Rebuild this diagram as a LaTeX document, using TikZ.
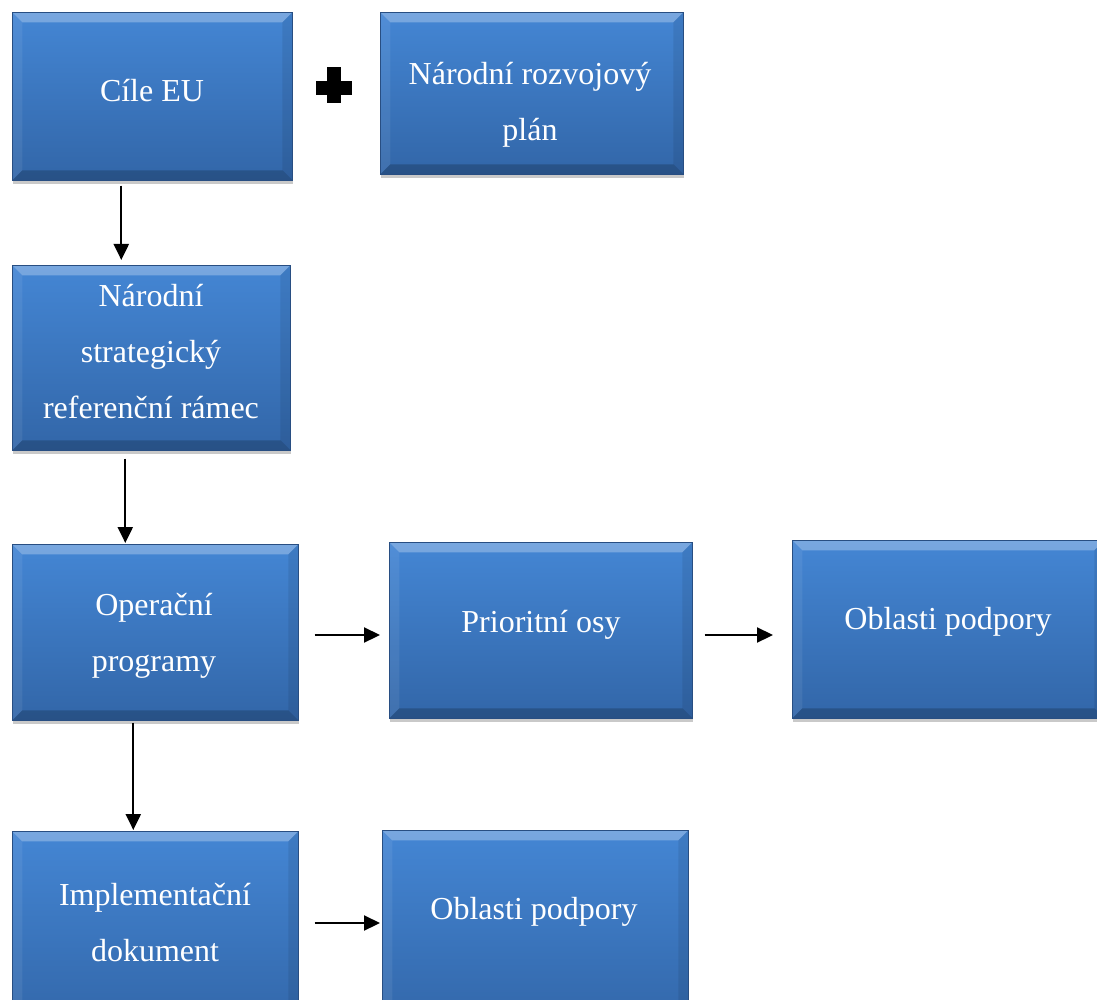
\documentclass[tikz,border=0pt]{standalone}
\usepackage{fontspec}
\setmainfont{Liberation Serif}
\usetikzlibrary{arrows.meta,shadows}
\definecolor{boxtop}{RGB}{68,134,212}
\definecolor{boxbot}{RGB}{50,102,168}
\definecolor{boxedge}{RGB}{40,78,130}
\tikzset{
  blbox/.style={rectangle, anchor=north west, top color=boxtop, bottom color=boxbot, draw=boxedge, line width=0.6pt,
    inner sep=0pt,
    drop shadow={shadow xshift=1pt, shadow yshift=-4pt, opacity=.3, fill=black!70},
    path picture={
      \fill[white,opacity=.28] (path picture bounding box.north west) -- (path picture bounding box.north east)
        -- ([shift={(-10pt,-10pt)}]path picture bounding box.north east) -- ([shift={(10pt,-10pt)}]path picture bounding box.north west) -- cycle;
      \fill[white,opacity=.07] (path picture bounding box.north west) -- ([shift={(10pt,-10pt)}]path picture bounding box.north west)
        -- ([shift={(10pt,10pt)}]path picture bounding box.south west) -- (path picture bounding box.south west) -- cycle;
      \fill[black,opacity=.08] (path picture bounding box.north east) -- ([shift={(-10pt,-10pt)}]path picture bounding box.north east)
        -- ([shift={(-10pt,10pt)}]path picture bounding box.south east) -- (path picture bounding box.south east) -- cycle;
      \fill[black,opacity=.2] (path picture bounding box.south west) -- ([shift={(10pt,10pt)}]path picture bounding box.south west)
        -- ([shift={(-10pt,10pt)}]path picture bounding box.south east) -- (path picture bounding box.south east) -- cycle;
    }},
  boxtext/.style={text=white, align=center, inner sep=0pt, anchor=center,
    font=\fontsize{32}{56}\selectfont},
  arr/.style={line width=2.2pt, -{Triangle[length=16pt,width=15pt]}}
}
\begin{document}
\begin{tikzpicture}[x=1pt,y=-1pt]
\useasboundingbox (0,0) rectangle (1097,1000);
\clip (0,0) rectangle (1097,1000);
% boxes
\node[blbox, minimum width=280pt, minimum height=168pt] (b1) at (12,12) {};
\node[blbox, minimum width=303pt, minimum height=162pt] (b2) at (380,12) {};
\node[blbox, minimum width=278pt, minimum height=185pt] (b3) at (12,265) {};
\node[blbox, minimum width=286pt, minimum height=176pt] (b4) at (12,544) {};
\node[blbox, minimum width=303pt, minimum height=176pt] (b5) at (389,542) {};
\node[blbox, minimum width=312pt, minimum height=178pt] (b6) at (792,540) {};
\node[blbox, minimum width=286pt, minimum height=200pt] (b7) at (12,831) {};
\node[blbox, minimum width=306pt, minimum height=200pt] (b8) at (382,830) {};
% texts
\node[boxtext] (t1) at (152,91) {Cíle EU};
\node[boxtext] (t2) at (530,105) {Národní rozvojový\\plán};
\node[boxtext] (t3) at (151,352) {Národní\\strategický\\referenční rámec};
\node[boxtext] (t4) at (154,636) {Operační\\programy};
\node[boxtext] (t5) at (541,625) {Prioritní osy};
\node[boxtext] (t6) at (948,622) {Oblasti podpory};
\node[boxtext] (t7) at (155,923) {Implementační\\dokument};
\node[boxtext] (t8) at (534,912) {Oblasti podpory};
% plus sign
\fill[black] (327,67) rectangle (341,103);
\fill[black] (316,81) rectangle (352,95);
% connectors
\draw[arr, shorten <=5pt, shorten >=5pt] ([xshift=-31pt]b1.south) -- ([xshift=-31pt]b1.south |- b3.north);
\draw[arr, shorten <=8pt, shorten >=1pt] ([xshift=-26pt]b3.south) -- ([xshift=-26pt]b3.south |- b4.north);
\draw[arr, shorten <=2pt, shorten >=1pt] ([xshift=-22pt]b4.south) -- ([xshift=-22pt]b4.south |- b7.north);
\draw[arr, shorten <=16pt, shorten >=9pt] (b4.east |- 0,635) -- (b5.west |- 0,635);
\draw[arr, shorten <=12pt, shorten >=19pt] (b5.east |- 0,635) -- (b6.west |- 0,635);
\draw[arr, shorten <=16pt, shorten >=2pt] (b7.east |- 0,923) -- (b8.west |- 0,923);
\end{tikzpicture}
\end{document}
